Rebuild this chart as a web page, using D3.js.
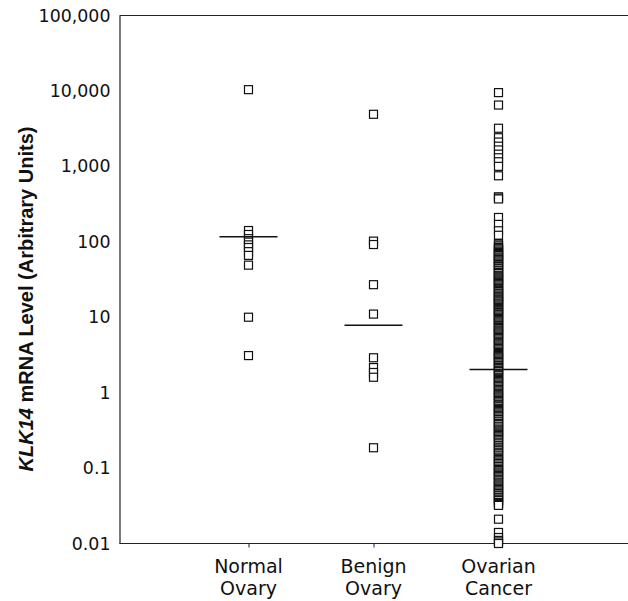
<!DOCTYPE html>
<html>
<head>
<meta charset="utf-8">
<script src="https://cdn.jsdelivr.net/npm/d3@7/dist/d3.min.js"></script>
<style>
  html, body { margin: 0; padding: 0; background: #fff; }
  svg { display: block; }
</style>
</head>
<body>
<script>
const categories = ["Normal Ovary", "Benign Ovary", "Ovarian Cancer"];
const categoryLines = [["Normal", "Ovary"], ["Benign", "Ovary"], ["Ovarian", "Cancer"]];

const normalValues = [10400, 141, 125, 110, 99, 91, 84, 74, 66, 49, 10, 3.1];
const benignValues = [4900, 102, 92, 27, 11, 2.9, 2.15, 1.85, 1.6, 0.186];
const cancerValues = [
  9500, 6500, 3200, 2400, 2100, 1850, 1650, 1450, 1300, 1150, 1000, 750,
  395, 380, 370, 210, 170, 140, 122,
  95, 91, 88, 84, 81, 78, 75, 72, 70, 68, 66, 63, 61, 59, 58, 56, 54, 52, 50,
  48, 47, 45, 44, 42, 41, 39, 38, 36, 35, 34, 33, 32, 31, 30, 29, 28, 27, 26,
  25, 24, 23.5, 22.7, 22, 21, 20.5, 19.7, 19, 18.5, 18, 17.4, 17, 16.5, 16,
  15.4, 15, 14.5, 14, 13.4, 13, 12.6, 12.2, 11.8, 11.5, 11.1, 10.8, 10.4, 10,
  9.6, 9.3, 9.0, 8.7, 8.4, 8.1, 7.8, 7.6, 7.3, 7.1, 6.8, 6.6, 6.4, 6.2, 6.0,
  5.8, 5.6, 5.4, 5.2, 5.0, 4.8, 4.6, 4.45, 4.3, 4.15, 4.0, 3.85, 3.7, 3.55,
  3.4, 3.3, 3.2, 3.1, 3.0, 2.9, 2.8, 2.7, 2.6, 2.5, 2.4, 2.3, 2.25, 2.15, 2.1,
  2.0, 1.95, 1.9, 1.8, 1.75, 1.68, 1.6, 1.55, 1.5, 1.45, 1.4, 1.35, 1.3, 1.25,
  1.2, 1.15, 1.1, 1.06, 1.02, 0.98, 0.95, 0.91, 0.88, 0.85, 0.82, 0.79, 0.76,
  0.73, 0.7, 0.67, 0.65, 0.62, 0.6, 0.58, 0.56, 0.54, 0.52, 0.5, 0.48, 0.46,
  0.44, 0.42, 0.41, 0.39, 0.38, 0.36, 0.35, 0.33, 0.32, 0.31, 0.3, 0.29, 0.28,
  0.27, 0.26, 0.25, 0.24, 0.23, 0.22, 0.21, 0.2, 0.19, 0.185, 0.178, 0.17,
  0.162, 0.155, 0.148, 0.14, 0.135, 0.13, 0.125, 0.12, 0.115, 0.11, 0.105,
  0.1, 0.096, 0.093, 0.089, 0.086, 0.083, 0.08, 0.077, 0.074, 0.071, 0.068,
  0.065, 0.063, 0.06, 0.058, 0.056, 0.054, 0.052, 0.05, 0.048, 0.046, 0.044,
  0.043, 0.041, 0.04, 0.038, 0.037, 0.035, 0.034, 0.033, 0.032,
  0.021, 0.014, 0.012, 0.011, 0.0105, 0.01
];
const medians = [117, 7.8, 2.03];

const yTickValues = [0.01, 0.1, 1, 10, 100, 1000, 10000, 100000];
const yTickLabels = ["0.01", "0.1", "1", "10", "100", "1,000", "10,000", "100,000"];

const W = 628, H = 601;
const mLeft = 119.5, mRight = 628, mTop = 15.5, mBottom = 543.5;

const svg = d3.select("body").append("svg").attr("width", W).attr("height", H);

const y = d3.scaleLog().domain([0.01, 100000]).range([mBottom, mTop]);
const x = d3.scalePoint().domain(categories).range([mLeft, 627.5]).padding(1.032);

// Y axis
const yAxis = d3.axisLeft(y).tickValues(yTickValues).tickSize(0).tickPadding(9)
  .tickFormat((d, i) => yTickLabels[i]);
const gy = svg.append("g").attr("transform", `translate(${mLeft},0)`).call(yAxis);
gy.select(".domain").attr("stroke", "#222").attr("stroke-width", 1.2);
gy.selectAll("text").attr("font-family", "DejaVu Sans").attr("font-size", 17.4).attr("fill", "#111");

// top border
svg.append("line").attr("x1", mLeft).attr("x2", mRight).attr("y1", mTop).attr("y2", mTop)
  .attr("stroke", "#222").attr("stroke-width", 1.2);

// X axis
const xAxis = d3.axisBottom(x).tickSize(4).tickSizeOuter(0).tickFormat("");
const gx = svg.append("g").attr("transform", `translate(0,${mBottom})`).call(xAxis);
gx.select(".domain").attr("d", `M${mLeft},0H${mRight}`).attr("stroke", "#222").attr("stroke-width", 1.2);
gx.selectAll(".tick line").attr("stroke", "#222");

categories.forEach((c, i) => {
  const t = svg.append("text").attr("text-anchor", "middle")
    .attr("font-family", "DejaVu Sans").attr("font-size", 19).attr("fill", "#111");
  t.append("tspan").attr("x", x(c)).attr("y", 573).text(categoryLines[i][0]);
  t.append("tspan").attr("x", x(c)).attr("y", 595).text(categoryLines[i][1]);
});

// Y label
const yl = svg.append("text").attr("transform", `translate(33,${299}) rotate(-90)`)
  .attr("text-anchor", "middle").attr("font-family", "Liberation Sans, Arial, sans-serif")
  .attr("font-weight", "bold").attr("font-size", 20).attr("fill", "#111");
yl.append("tspan").attr("font-style", "italic").text("KLK14");
yl.append("tspan").text(" mRNA Level (Arbitrary Units)");

// Points
const groups = [normalValues, benignValues, cancerValues];
const sq = 8;
groups.forEach((vals, i) => {
  svg.append("g").selectAll("rect").data(vals).join("rect")
    .attr("x", x(categories[i]) - sq / 2)
    .attr("y", d => y(d) - sq / 2)
    .attr("width", sq).attr("height", sq)
    .attr("fill", "#fff").attr("stroke", "#111").attr("stroke-width", 1.2);
});

// Median lines
svg.append("g").selectAll("line").data(medians).join("line")
  .attr("x1", (d, i) => x(categories[i]) - 29)
  .attr("x2", (d, i) => x(categories[i]) + 29)
  .attr("y1", d => y(d)).attr("y2", d => y(d))
  .attr("stroke", "#111").attr("stroke-width", 1.5);
</script>
</body>
</html>
